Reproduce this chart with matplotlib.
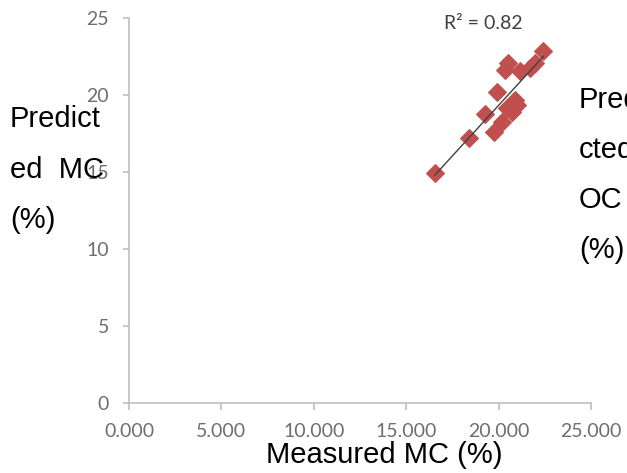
import matplotlib.pyplot as plt
import numpy as np

# Valeurs
measured = [16.55, 18.41, 19.26, 19.93, 19.75, 20.53, 20.44, 20.89,
            20.17, 21.70, 21.97, 21.16, 22.42, 20.71, 20.98, 20.35]
predicted = [14.97, 17.23, 18.75, 20.23, 17.63, 22.08, 19.15, 19.69,
             18.28, 21.75, 22.08, 21.54, 22.84, 18.93, 19.36, 21.65]
x_ticks = [0, 5, 10, 15, 20, 25]
y_ticks = [0, 5, 10, 15, 20, 25]
r2_label = "R² = 0.82"

fig = plt.figure(figsize=(6.27, 4.73), dpi=100)
ax = fig.add_axes([0.2057, 0.147, 0.7369, 0.815])

# Points et droite de tendance
ax.scatter(measured, predicted, marker='D', s=80, color='#C0504D',
           edgecolors='#C0504D', zorder=3)
pente, origine = np.polyfit(measured, predicted, 1)
xs = np.array([min(measured), max(measured)])
ax.plot(xs, pente * xs + origine, color='#404040', lw=1, zorder=4)

ax.set_xlim(0, 25)
ax.set_ylim(0, 25)
ax.set_xticks(x_ticks)
ax.set_yticks(y_ticks)
ax.set_xticklabels(['%.3f' % v for v in x_ticks])
ax.set_yticklabels([str(v) for v in y_ticks])

for cote in ['top', 'right']:
    ax.spines[cote].set_visible(False)
for cote in ['left', 'bottom']:
    ax.spines[cote].set_color('#bfbfbf')
    ax.spines[cote].set_linewidth(1.2)

ax.tick_params(axis='x', direction='out', length=5, width=1.2,
               color='#bfbfbf', labelcolor='#6e6e6e', pad=9)
ax.tick_params(axis='y', direction='out', length=4.3, width=1.2,
               color='#bfbfbf', labelcolor='#6e6e6e', pad=10)
for lab in ax.get_xticklabels() + ax.get_yticklabels():
    lab.set_family('Lato')
    lab.set_fontsize(14)

ax.text(0.766, 0.985, r2_label, transform=ax.transAxes, ha='center',
        va='center', fontsize=14, family='Lato', color='#404040')

# Titres des axes (texte coupe comme dans l'original)
police = dict(family='Liberation Sans', fontsize=21, color='black',
              va='baseline')
fig.text(384 / 627, 1 - 463 / 473, "Measured MC (%)", ha='center', **police)
for ligne, y in zip(["Predict", "ed  MC", "(%)"], [127, 178, 228]):
    fig.text(10 / 627, 1 - y / 473, ligne, ha='left', **police)
for ligne, y in zip(["Predi", "cted", "OC", "(%)"], [108, 158, 208, 258]):
    fig.text(579 / 627, 1 - y / 473, ligne, ha='left', **police)

plt.savefig("out.png", dpi=100)
